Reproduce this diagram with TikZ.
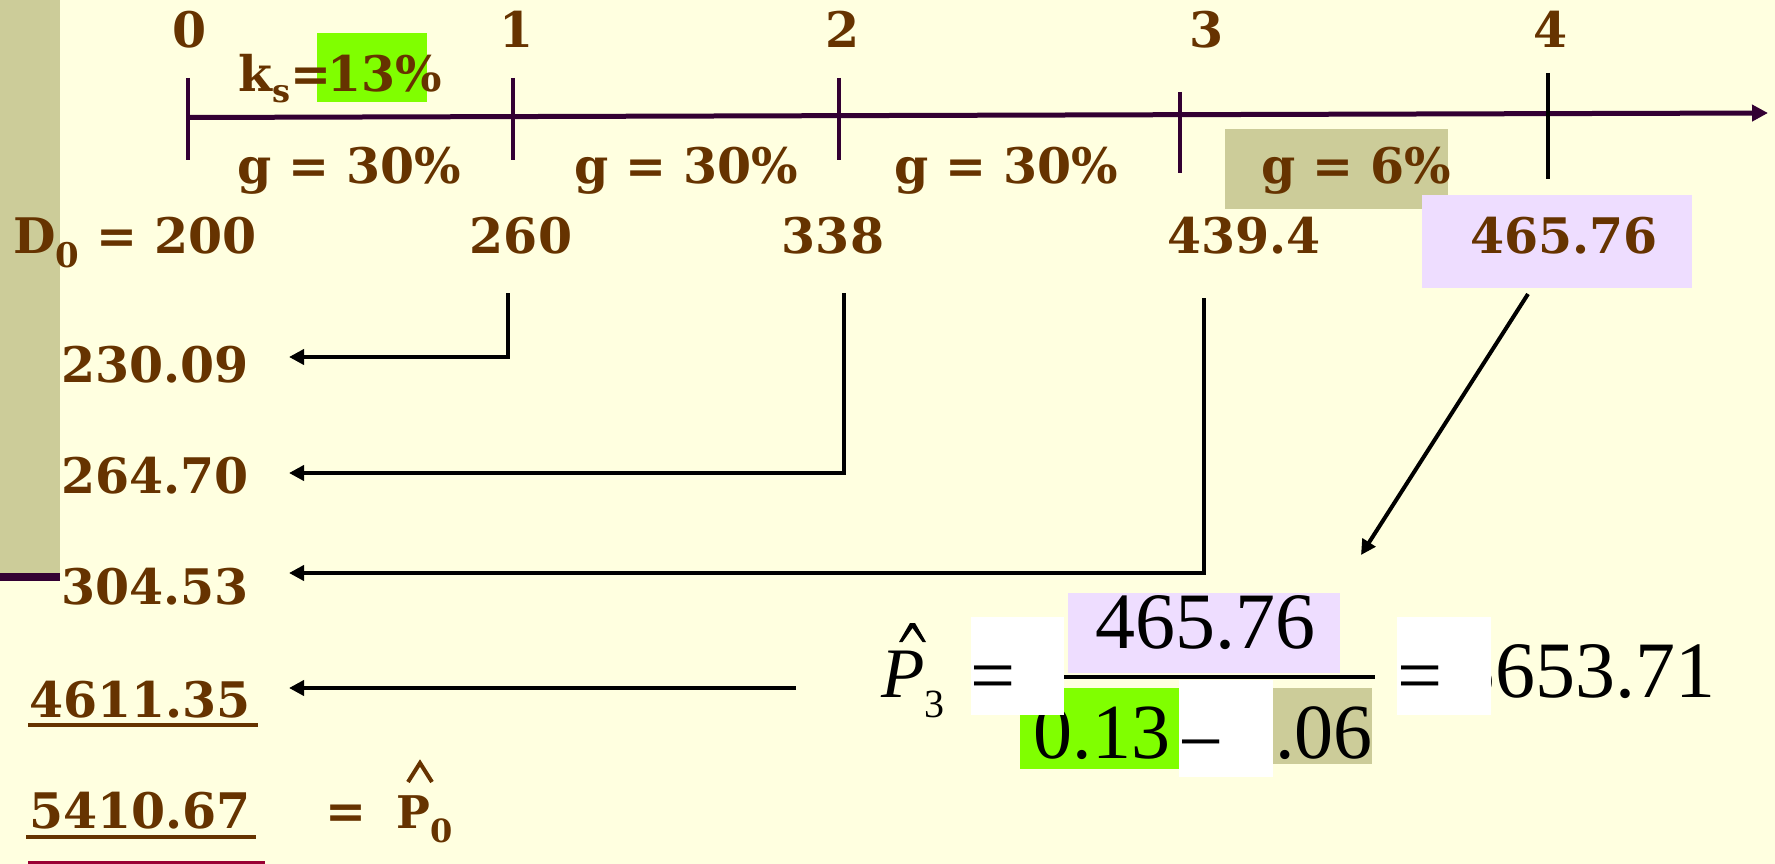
\documentclass[tikz,border=0pt]{standalone}
\usepackage{fontspec}
\newfontfamily\bk{DejaVu Serif}
\newfontfamily\tms{Liberation Serif}
\usetikzlibrary{arrows.meta}
\definecolor{bg}{RGB}{255,255,224}
\definecolor{barc}{RGB}{204,204,153}
\definecolor{brn}{RGB}{102,51,0}
\definecolor{tl}{RGB}{51,0,51}
\definecolor{lime}{RGB}{128,255,0}
\definecolor{lav}{RGB}{238,221,255}
\definecolor{crim}{RGB}{153,0,51}
\newcommand\bsz{\fontsize{49}{58}\selectfont}
\tikzset{
  val/.style={text=brn, font=\bk\bfseries\bsz, inner sep=0pt, anchor=base},
  valw/.style={val, anchor=base west},
  eqt/.style={text=black, font=\tms\fontsize{80}{86}\selectfont, inner sep=0pt, anchor=base},
  conn/.style={draw=black, line width=4pt, -{Triangle[length=15pt,width=15pt]}},
  tickm/.style={draw=tl, line width=4pt},
  uline/.style={draw=brn, line width=3.5pt},
}
\begin{document}
\begin{tikzpicture}[x=1pt,y=-1pt]
\useasboundingbox (0,0) rectangle (1775,864);
\fill[bg] (0,0) rectangle (1775,864);
\fill[barc] (0,0) rectangle (60,573);
\fill[tl] (0,573) rectangle (60,581);
\fill[crim] (28,861) rectangle (265,864);

% timeline
\coordinate (tA) at (187,117.5);
\coordinate (tB) at (1768,113);
\draw[tl, line width=5pt, -{Triangle[length=16pt,width=16pt]}] (tA) -- (tB);
\draw[tickm] (187.5,78) -- (187.5,160);
\draw[tickm] (513,78) -- (513,160);
\draw[tickm] (839,78) -- (839,160);
\draw[tickm] (1180,92) -- (1180,173);
\draw[draw=black, line width=4pt] (1548,73) -- (1548,179);

% period labels
\node[val] (n0) at (190,48) {0};
\node[val] (n1) at (517,48) {1};
\node[val] (n2) at (843,48) {2};
\node[val] (n3) at (1207,48) {3};
\node[val] (n4) at (1551,48) {4};

% ks
\fill[lime] (317,33) rectangle (427,102);
\node[valw] (ks) at (238,92) {k\raisebox{-11pt}{\fontsize{32}{32}\selectfont s}=};
\node[valw] (ksv) at (327,92) {13\%};

% growth
\node[valw] (g1) at (237,183) {g = 30\%};
\node[valw] (g2) at (574,183) {g = 30\%};
\node[valw] (g3) at (894,183) {g = 30\%};
\fill[barc] (1225,129) rectangle (1448,209);
\node[valw] (g4) at (1261,183) {g = 6\%};

% dividends
\node[valw] (d0) at (13,253) {D\raisebox{-14pt}{\fontsize{34}{34}\selectfont 0} = 200};
\node[val] (v1) at (521,253) {260};
\node[val] (v2) at (833,253) {338};
\node[val] (v3) at (1244,253) {439.4};
\fill[lav] (1422,195) rectangle (1692,288);
\node[val] (v4) at (1564,253) {465.76};

% present values
\node[valw] (a1) at (61,382) {230.09};
\node[valw] (a2) at (61,493) {264.70};
\node[valw] (a3) at (61,604) {304.53};
\node[valw] (a4) at (29,717) {4611.35};
\draw[uline] (28,725) -- (258,725);
\node[valw] (a5) at (29,828) {5410.67};
\draw[uline] (26,837) -- (256,837);
\node[valw] (eqs) at (325,828) {=};
\node[valw, font=\bk\bfseries\fontsize{45}{50}\selectfont] (p0) at (396,828) {P\raisebox{-14pt}{\fontsize{32}{32}\selectfont 0}};
\draw[brn, line width=4pt] (408,782) -- (420,763) -- (432,782);

% connectors
\coordinate (s1) at (508,293); \coordinate (e1) at (289,357);
\coordinate (s2) at (844,293); \coordinate (e2) at (289,473);
\coordinate (s3) at (1204,298); \coordinate (e3) at (289,573);
\coordinate (s4) at (796,688); \coordinate (e4) at (289,688);
\coordinate (s5) at (1528,294); \coordinate (e5) at (1361,555);
\draw[conn] (s1) |- (e1);
\draw[conn] (s2) |- (e2);
\draw[conn] (s3) |- (e3);
\draw[conn] (s4) -- (e4);
\draw[conn] (s5) -- (e5);

% equation
\fill[lime] (1020,688) rectangle (1179,769);
\node[eqt, font=\tms\fontsize{78}{84}\selectfont] (e013) at (1102,758) {0.13};
\fill[lav] (1068,593) rectangle (1340,673);
\node[eqt] (e465) at (1205,648) {465.76};
\fill[barc] (1273,688) rectangle (1372,764);
\node[eqt, font=\tms\fontsize{78}{84}\selectfont, anchor=base east] (e006) at (1373,758) {0.06};
\draw[black, line width=4pt] (1064,677) -- (1375,677);
\node[eqt, anchor=base east] (e565) at (1716,697) {5653.71};
\fill[white] (971,617) rectangle (1064,715);
\fill[white] (1179,680) rectangle (1273,777);
\fill[white] (1397,617) rectangle (1491,715);
\node[eqt] (eq1) at (993,702) {=};
\node[eqt] (eq2) at (1420,702) {=};
\node[eqt] (mn) at (1201,768) {−};
\node[eqt, font=\tms\fontsize{71}{76}\selectfont, anchor=base west] (p3) at (881,697) {\itshape P\upshape\raisebox{-20pt}{\fontsize{40}{40}\selectfont 3}};
\fill[black] (899,642) -- (910,623) -- (915,623) -- (926,642) -- (922.5,642) -- (912.5,628) -- (902.5,642) -- cycle;
\end{tikzpicture}
\end{document}
